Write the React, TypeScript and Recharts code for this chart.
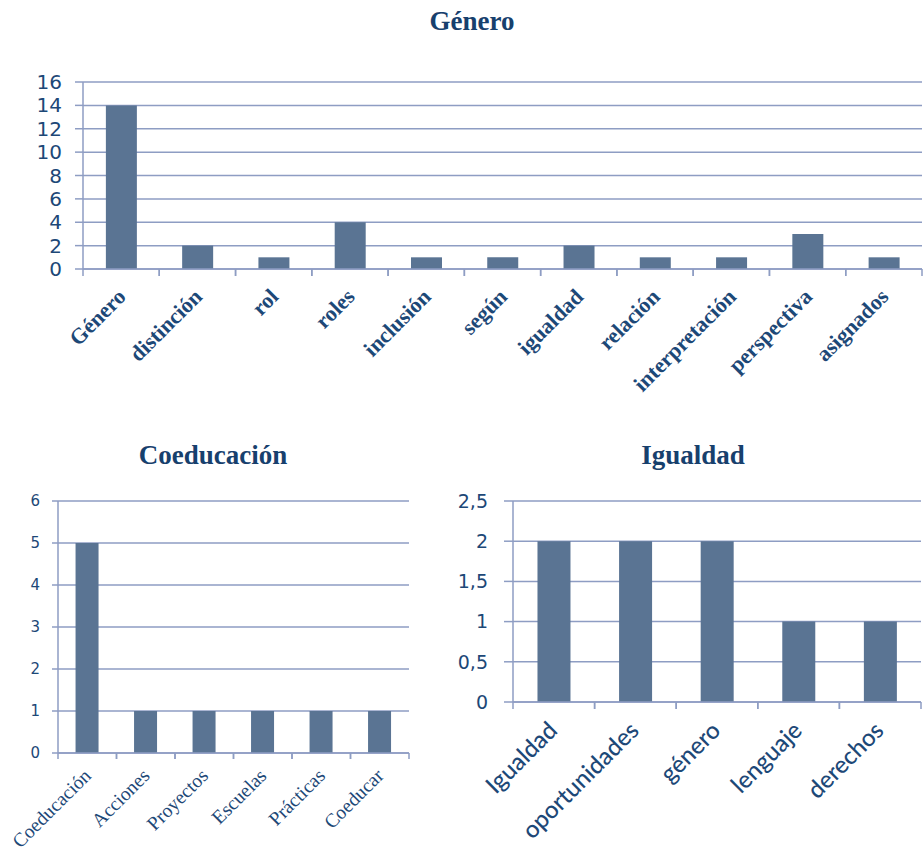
import React from 'react'
import { BarChart, Bar, XAxis, YAxis, CartesianGrid } from 'recharts'

// Género
const generoWords = ['Género', 'distinción', 'rol', 'roles', 'inclusión', 'según', 'igualdad', 'relación', 'interpretación', 'perspectiva', 'asignados']
const generoCounts = [14, 2, 1, 4, 1, 1, 2, 1, 1, 3, 1]
const generoTicks = [0, 2, 4, 6, 8, 10, 12, 14, 16]

// Coeducación
const coeduWords = ['Coeducación', 'Acciones', 'Proyectos', 'Escuelas', 'Prácticas', 'Coeducar']
const coeduCounts = [5, 1, 1, 1, 1, 1]
const coeduTicks = [0, 1, 2, 3, 4, 5, 6]

// Igualdad
const igualdadWords = ['Igualdad', 'oportunidades', 'género', 'lenguaje', 'derechos']
const igualdadCounts = [2, 2, 2, 1, 1]
const igualdadTicks = [0, 0.5, 1, 1.5, 2, 2.5]

const BAR = '#5a7493'
const GRID = '#8e9dc3'
const TEXT = '#1d4877'
const TITLE = '#17406d'

const SERIF = '"Liberation Serif", serif'
const SANS = 'Lato, sans-serif'
const NUM = '"DejaVu Sans", sans-serif'

const toRows = (words: string[], counts: number[]) => words.map((w, i) => ({ word: w, count: counts[i] }))

// category label rotated -45deg, plus tick marks on the band edges (Excel style)
const makeTick = (font: string, size: number, weight: number, dx: number, dy: number, tickLen: number) => (props: any) => {
  const { x, y, payload } = props
  const off = payload?.offset ?? 0
  return (
    <g>
      <line x1={x - off} y1={y} x2={x - off} y2={y + tickLen} stroke={GRID} strokeWidth={1.5} />
      <line x1={x + off} y1={y} x2={x + off} y2={y + tickLen} stroke={GRID} strokeWidth={1.5} />
      <text
        x={x + dx}
        y={y + dy}
        textAnchor="end"
        fontFamily={font}
        fontSize={size}
        fontWeight={weight}
        fill={TEXT}
        transform={`rotate(-45, ${x + dx}, ${y + dy})`}
      >
        {payload.value}
      </text>
    </g>
  )
}

const titleStyle = (left: number, top: number, width: number): React.CSSProperties => ({
  position: 'absolute',
  left,
  top,
  width,
  textAlign: 'center',
  fontFamily: SERIF,
  fontWeight: 'bold',
  fontSize: 27,
  lineHeight: '30px',
  color: TITLE
})

const fmtComma = (v: number) => String(v).replace('.', ',')

export default function App() {
  const genero = toRows(generoWords, generoCounts)
  const coedu = toRows(coeduWords, coeduCounts)
  const igualdad = toRows(igualdadWords, igualdadCounts)

  return (
    <div style={{ position: 'absolute', left: 0, top: 0, width: 923, height: 854, background: '#fff', overflow: 'hidden' }}>
      <div style={titleStyle(372, 6, 200)}>Género</div>
      <div style={{ position: 'absolute', left: 0, top: 0 }}>
        <BarChart width={923} height={400} data={genero} margin={{ top: 82, right: 1, bottom: 0, left: 0 }} barCategoryGap="30%">
          <CartesianGrid horizontal vertical={false} stroke={GRID} strokeWidth={1.5} />
          <XAxis
            dataKey="word"
            interval={0}
            height={131}
            tickSize={0}
            tickMargin={0}
            tickLine={false}
            axisLine={{ stroke: GRID, strokeWidth: 1.5 }}
            tick={makeTick(SERIF, 22, 700, 6, 29, 7)}
          />
          <YAxis
            width={83}
            domain={[0, 16]}
            ticks={generoTicks}
            interval={0}
            tickSize={8}
            tickMargin={13}
            axisLine={{ stroke: GRID, strokeWidth: 1.5 }}
            tickLine={{ stroke: GRID, strokeWidth: 1.5 }}
            tick={{ fill: TEXT, fontSize: 20, fontFamily: NUM }}
          />
          <Bar dataKey="count" fill={BAR} isAnimationActive={false} />
        </BarChart>
      </div>

      <div style={titleStyle(113, 440, 200)}>Coeducación</div>
      <div style={{ position: 'absolute', left: 0, top: 440 }}>
        <BarChart width={420} height={414} data={coedu} margin={{ top: 61, right: 11, bottom: 0, left: 0 }} barCategoryGap="30%">
          <CartesianGrid horizontal vertical={false} stroke={GRID} strokeWidth={1.5} />
          <XAxis
            dataKey="word"
            interval={0}
            height={101}
            tickSize={0}
            tickMargin={0}
            tickLine={false}
            axisLine={{ stroke: GRID, strokeWidth: 1.5 }}
            tick={makeTick(SERIF, 19.5, 500, 5, 24, 6)}
          />
          <YAxis
            width={58}
            domain={[0, 6]}
            ticks={coeduTicks}
            interval={0}
            tickSize={6}
            tickMargin={12}
            axisLine={{ stroke: GRID, strokeWidth: 1.5 }}
            tickLine={{ stroke: GRID, strokeWidth: 1.5 }}
            tick={{ fill: TEXT, fontSize: 15, fontFamily: NUM }}
          />
          <Bar dataKey="count" fill={BAR} isAnimationActive={false} />
        </BarChart>
      </div>

      <div style={titleStyle(593, 440, 200)}>Igualdad</div>
      <div style={{ position: 'absolute', left: 430, top: 440 }}>
        <BarChart width={493} height={414} data={igualdad} margin={{ top: 61, right: 2, bottom: 0, left: 0 }} barCategoryGap="30%">
          <CartesianGrid horizontal vertical={false} stroke={GRID} strokeWidth={1.5} />
          <XAxis
            dataKey="word"
            interval={0}
            height={152}
            tickSize={0}
            tickMargin={0}
            tickLine={false}
            axisLine={{ stroke: GRID, strokeWidth: 1.5 }}
            tick={makeTick(SANS, 24, 500, 5, 30, 7)}
          />
          <YAxis
            width={83}
            domain={[0, 2.5]}
            ticks={igualdadTicks}
            interval={0}
            tickSize={9}
            tickMargin={16}
            tickFormatter={fmtComma}
            axisLine={{ stroke: GRID, strokeWidth: 1.5 }}
            tickLine={{ stroke: GRID, strokeWidth: 1.5 }}
            tick={{ fill: TEXT, fontSize: 19, fontFamily: NUM }}
          />
          <Bar dataKey="count" fill={BAR} isAnimationActive={false} />
        </BarChart>
      </div>
    </div>
  )
}
